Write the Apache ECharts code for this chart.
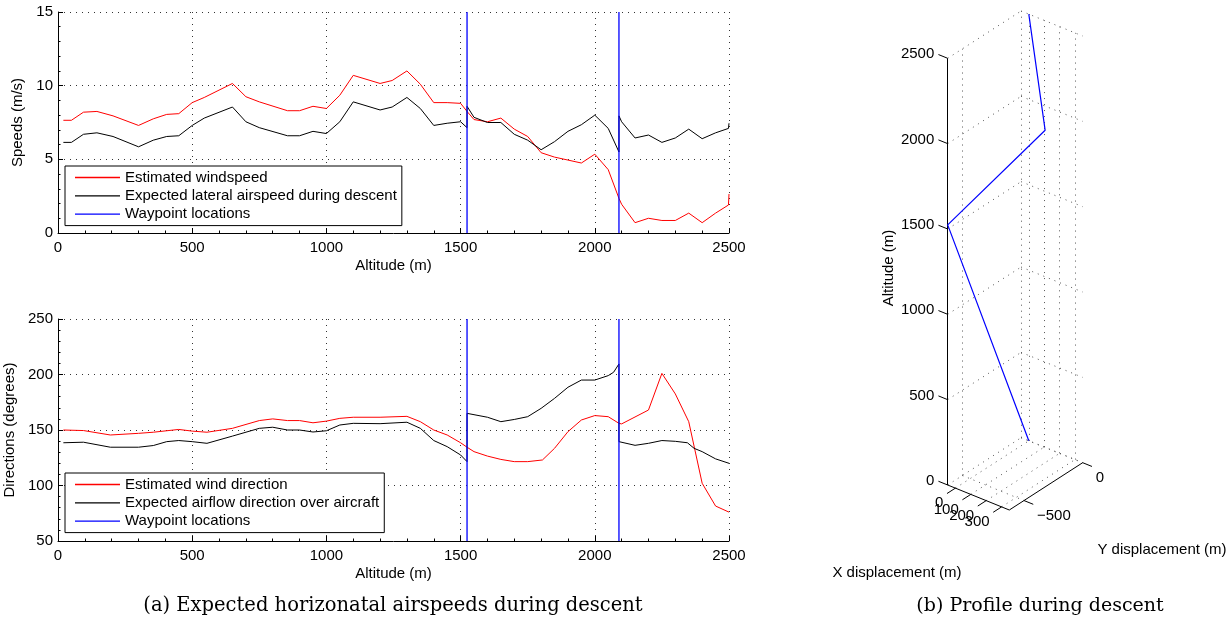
<!DOCTYPE html>
<html>
<head>
<meta charset="utf-8">
<script src="https://cdn.jsdelivr.net/npm/echarts@6/dist/echarts.min.js"></script>
<style>
  html, body { margin: 0; padding: 0; background: #fff; }
  #main { width: 1230px; height: 626px; }
</style>
</head>
<body>
<div id="main"></div>
<script>
// ---- Horizontal speeds vs altitude: [altitude (m), speed (m/s)] ----
const windspeed = [
  [20,7.65],[50,7.65],[95,8.2],[145,8.25],[205,7.95],[300,7.3],[355,7.75],[405,8.05],[450,8.1],
  [500,8.85],[545,9.2],[650,10.15],[700,9.25],[750,8.9],[855,8.3],[900,8.3],[950,8.6],[1000,8.45],
  [1050,9.35],[1100,10.7],[1200,10.15],[1245,10.35],[1300,11.0],[1350,10.1],[1400,8.85],[1450,8.85],
  [1500,8.8],[1524,8.25],[1550,7.7],[1600,7.55],[1650,7.8],[1700,7.05],[1750,6.55],[1800,5.45],
  [1850,5.15],[1900,4.95],[1950,4.75],[2000,5.35],[2050,4.3],[2090,2.35],[2100,1.95],[2150,0.7],
  [2200,1.0],[2250,0.85],[2300,0.85],[2350,1.35],[2400,0.7],[2450,1.35],[2498,1.9],[2500,2.65]
];
const lateralAirspeed = [
  [20,6.15],[50,6.15],[95,6.7],[145,6.8],[205,6.55],[300,5.85],[355,6.3],[405,6.55],[450,6.6],
  [500,7.3],[545,7.8],[650,8.55],[700,7.55],[750,7.15],[855,6.6],[900,6.6],[950,6.9],[1000,6.75],
  [1050,7.55],[1100,8.9],[1200,8.35],[1245,8.55],[1300,9.2],[1350,8.45],[1400,7.3],[1450,7.45],
  [1500,7.55],[1524,7.15],[1524,8.6],[1550,7.85],[1600,7.5],[1650,7.5],[1700,6.7],[1750,6.3],
  [1800,5.65],[1850,6.2],[1900,6.9],[1950,7.35],[2000,8.0],[2050,7.1],[2090,5.5],[2090,7.95],
  [2100,7.55],[2150,6.45],[2200,6.65],[2250,6.15],[2300,6.45],[2350,7.05],[2400,6.4],[2450,6.8],
  [2498,7.1],[2500,7.45]
];

// ---- Directions vs altitude: [altitude (m), direction (deg)] ----
const windDirection = [
  [20,150],[95,149.5],[195,145.5],[300,147],[355,148],[450,150.5],[500,149],[555,148],[650,151.5],
  [750,158.5],[800,160],[855,158.5],[900,158.5],[950,156.5],[1000,158],[1050,160.5],[1100,161.5],
  [1200,161.5],[1300,162.3],[1350,157.5],[1400,150],[1450,145.5],[1500,138.5],[1524,134.5],
  [1550,130.5],[1600,126.5],[1650,123.5],[1700,121.5],[1750,121.5],[1805,123],[1850,133.5],
  [1900,148.5],[1950,159],[2000,163],[2050,162],[2090,156],[2100,155.5],[2200,168],[2250,201],
  [2300,182.5],[2350,157.5],[2400,102],[2450,81.5],[2500,76]
];
const airflowDirection = [
  [20,138.5],[95,139],[195,134.5],[300,134.5],[355,136],[405,139.5],[450,140.5],[500,139.5],
  [555,138],[650,144.5],[750,151.5],[800,152.5],[855,150],[900,150],[950,148.2],[1000,149.3],
  [1050,154.5],[1100,156],[1200,155.7],[1300,157],[1350,151.5],[1400,140.5],[1450,135],
  [1500,127.5],[1524,121.5],[1524,165],[1600,161.5],[1650,157.5],[1700,159.5],[1750,162],
  [1800,169.5],[1850,178.5],[1900,188.5],[1950,195],[2000,195],[2050,199],[2070,202],[2090,209.5],
  [2090,139.5],[2150,136.2],[2200,138],[2250,140.5],[2300,139.8],[2345,138.5],[2370,133.5],
  [2400,130.5],[2450,124],[2500,120]
];
const waypointAltitudes = [1524, 2090];

// ---- Descent profile (m) ----
const profileX = [0, 350, -50, 0];
const profileY = [0, -320, -625, 0];
const profileAlt = [2500, 2090, 1524, 0];
const xTicks3d = [0, 100, 200, 300];
const yTicks3d = [-500, 0];
const zTicks3d = [0, 500, 1000, 1500, 2000, 2500];
const xRange3d = [-50, 350];
const yRange3d = [-625, 0];
const zRange3d = [0, 2500];

// axis limits of the two altitude plots
const speedRange = [0, 15];
const directionRange = [50, 250];

const FONT = '"Liberation Sans", Arial, Helvetica, sans-serif';
const SERIF = '"DejaVu Serif", "Liberation Serif", serif';

// Oblique box used to project the 3-D profile onto the page (pixels)
const box = {
  origin: [947.7, 485],
  xEdge: [61.6, 25],
  yEdge: [73.4, -47.3],
  zEdge: [0, -426.7]
};
function project(x, y, z) {
  const fx = (x - xRange3d[0]) / (xRange3d[1] - xRange3d[0]);
  const fy = (y - yRange3d[0]) / (yRange3d[1] - yRange3d[0]);
  const fz = (z - zRange3d[0]) / (zRange3d[1] - zRange3d[0]);
  return [
    box.origin[0] + fx * box.xEdge[0] + fy * box.yEdge[0] + fz * box.zEdge[0],
    box.origin[1] + fx * box.xEdge[1] + fy * box.yEdge[1] + fz * box.zEdge[1]
  ];
}
function unit(v) { const l = Math.hypot(v[0], v[1]); return [v[0] / l, v[1] / l]; }
function add(p, v, s) { return [p[0] + v[0] * s, p[1] + v[1] * s]; }

const [x0, x1] = xRange3d, [y0, y1] = yRange3d, [z0, z1] = zRange3d;
const gridSegs = [];
const seg = (a, b) => gridSegs.push({ coords: [a, b] });
yTicks3d.forEach(y => seg(project(x0, y, z0), project(x0, y, z1)));
zTicks3d.forEach(z => seg(project(x0, y0, z), project(x0, y1, z)));
xTicks3d.forEach(x => seg(project(x, y1, z0), project(x, y1, z1)));
zTicks3d.forEach(z => seg(project(x0, y1, z), project(x1, y1, z)));
xTicks3d.forEach(x => seg(project(x, y0, z0), project(x, y1, z0)));
yTicks3d.forEach(y => seg(project(x0, y, z0), project(x1, y, z0)));

const ux = unit(box.xEdge), uy = unit(box.yEdge);
const axisSegs = [
  { coords: [project(x0, y0, z0), project(x0, y0, z1)] },
  { coords: [project(x0, y0, z0), project(x1, y0, z0)] },
  { coords: [project(x1, y0, z0), project(x1, y1, z0)] }
];
const tickLabels3d = [];
zTicks3d.forEach(z => {
  const p = project(x0, y0, z);
  axisSegs.push({ coords: [p, add(p, ux, -10)] });
  tickLabels3d.push([p[0] - 13.4, p[1] - 4, String(z), 'right']);
});
xTicks3d.forEach(x => {
  const p = project(x, y0, z0);
  axisSegs.push({ coords: [p, add(p, uy, -10)] });
  tickLabels3d.push([p[0] - 12, p[1] + 15, String(x), 'right']);
});
yTicks3d.forEach(y => {
  const p = project(x1, y, z0);
  axisSegs.push({ coords: [p, add(p, ux, 10)] });
  tickLabels3d.push([p[0] + 13, p[1] + 15, y < 0 ? '\u2212' + Math.abs(y) : String(y), 'left']);
});
const profilePath = profileX.map((x, i) => project(x, profileY[i], profileAlt[i]));

// ---- shared 2-D axis styling ----
const dotted = { color: '#333', width: 1, type: [1, 5] };
const plain = v => String(v);
function xAxis2d(gridIndex) {
  return {
    gridIndex, type: 'value', min: 0, max: 2500, interval: 500,
    name: 'Altitude (m)', nameLocation: 'middle', nameGap: 25,
    nameTextStyle: { fontSize: 15, color: '#000', fontFamily: FONT },
    axisLine: { onZero: false, lineStyle: { color: '#000', width: 1 } },
    axisTick: { inside: true, length: 5, lineStyle: { color: '#000' } },
    minorTick: { show: true, splitNumber: 5, length: 2.5, lineStyle: { color: '#000' } },
    axisLabel: { fontSize: 15, color: '#000', fontFamily: FONT, margin: 7, formatter: plain },
    splitLine: { show: true, lineStyle: dotted }
  };
}
function yAxis2d(gridIndex, range, interval, name, gap) {
  return {
    gridIndex, type: 'value', min: range[0], max: range[1], interval,
    name, nameLocation: 'middle', nameGap: gap, nameRotate: 90,
    nameTextStyle: { fontSize: 15, color: '#000', fontFamily: FONT },
    axisLine: { onZero: false, lineStyle: { color: '#000', width: 1 } },
    axisTick: { inside: true, length: 5, lineStyle: { color: '#000' } },
    minorTick: { show: true, splitNumber: 5, length: 2.5, lineStyle: { color: '#000' } },
    axisLabel: { fontSize: 15, color: '#000', fontFamily: FONT, margin: 5, formatter: plain },
    splitLine: { show: true, lineStyle: dotted }
  };
}
// one vertical line per waypoint, spanning the full value range
function waypointSeries(xi, yi, range) {
  return waypointAltitudes.map(a => ({
    name: 'Waypoint locations', type: 'line', xAxisIndex: xi, yAxisIndex: yi,
    data: [[a, range[0]], [a, range[1]]], symbol: 'none', color: '#0000ff',
    lineStyle: { color: '#0000ff', width: 1.3 }, silent: true, z: 5
  }));
}
function dataLine(name, data, color, xi, yi) {
  return {
    name, type: 'line', data, xAxisIndex: xi, yAxisIndex: yi, symbol: 'none',
    color, lineStyle: { color, width: 1 }, z: 3
  };
}
function legend2d(top, names) {
  return {
    orient: 'vertical', left: 65, top,
    data: names, icon: 'rect', itemWidth: 45, itemHeight: 1.3, itemGap: 2.3,
    padding: [3.5, 5, 3.5, 10],
    borderColor: '#000', borderWidth: 1, backgroundColor: '#fff',
    selectedMode: false,
    textStyle: { fontSize: 15, color: '#000', fontFamily: FONT, lineHeight: 16 }
  };
}

const option = {
  backgroundColor: '#fff',
  animation: false,
  grid: [
    { left: 58, top: 12, width: 671, height: 221, containLabel: false, outerBoundsMode: 'none' },
    { left: 58, top: 319, width: 671, height: 222, containLabel: false, outerBoundsMode: 'none' },
    { left: 0, top: 0, width: 1230, height: 626, containLabel: false, outerBoundsMode: 'none' }
  ],
  xAxis: [
    xAxis2d(0),
    xAxis2d(1),
    { gridIndex: 2, type: 'value', min: 0, max: 1230, show: false }
  ],
  yAxis: [
    yAxis2d(0, speedRange, 5, 'Speeds (m/s)', 23),
    yAxis2d(1, directionRange, 50, 'Directions (degrees)', 31),
    { gridIndex: 2, type: 'value', min: 0, max: 626, inverse: true, show: false }
  ],
  legend: [
    legend2d(166, ['Estimated windspeed', 'Expected lateral airspeed during descent', 'Waypoint locations']),
    legend2d(473, ['Estimated wind direction', 'Expected airflow direction over aircraft', 'Waypoint locations'])
  ],
  series: [
    dataLine('Estimated windspeed', windspeed, '#ff0000', 0, 0),
    dataLine('Expected lateral airspeed during descent', lateralAirspeed, '#000000', 0, 0),
    ...waypointSeries(0, 0, speedRange),
    dataLine('Estimated wind direction', windDirection, '#ff0000', 1, 1),
    dataLine('Expected airflow direction over aircraft', airflowDirection, '#000000', 1, 1),
    ...waypointSeries(1, 1, directionRange),
    {
      type: 'lines', coordinateSystem: 'cartesian2d', xAxisIndex: 2, yAxisIndex: 2,
      silent: true, data: gridSegs,
      lineStyle: { color: '#555', width: 1, type: [1, 5], opacity: 1 }
    },
    {
      type: 'lines', coordinateSystem: 'cartesian2d', xAxisIndex: 2, yAxisIndex: 2,
      silent: true, data: axisSegs,
      lineStyle: { color: '#000', width: 1, opacity: 1 }
    },
    {
      type: 'line', xAxisIndex: 2, yAxisIndex: 2, data: profilePath, symbol: 'none',
      silent: true, lineStyle: { color: '#0000ff', width: 1.2 }, z: 4
    },
    {
      type: 'custom', xAxisIndex: 2, yAxisIndex: 2, silent: true, data: tickLabels3d,
      renderItem(params, api) {
        const d = tickLabels3d[params.dataIndex];
        const p = api.coord([d[0], d[1]]);
        return {
          type: 'text', x: p[0], y: p[1],
          style: { text: d[2], align: d[3], verticalAlign: 'middle', fontSize: 15, fontFamily: FONT, fill: '#000' }
        };
      }
    }
  ],
  graphic: [
    { type: 'text', x: 889, y: 268, rotation: Math.PI / 2,
      style: { text: 'Altitude (m)', align: 'center', verticalAlign: 'middle', fontSize: 15, fontFamily: FONT, fill: '#000' } },
    { type: 'text', x: 897, y: 573,
      style: { text: 'X displacement (m)', align: 'center', verticalAlign: 'middle', fontSize: 15, fontFamily: FONT, fill: '#000' } },
    { type: 'text', x: 1162, y: 550,
      style: { text: 'Y displacement (m)', align: 'center', verticalAlign: 'middle', fontSize: 15, fontFamily: FONT, fill: '#000' } },
    { type: 'text', x: 393, y: 606,
      style: { text: '(a) Expected horizonatal airspeeds during descent', align: 'center', verticalAlign: 'middle', fontSize: 19.5, fontFamily: SERIF, fill: '#000' } },
    { type: 'text', x: 1040, y: 606,
      style: { text: '(b) Profile during descent', align: 'center', verticalAlign: 'middle', fontSize: 19, fontFamily: SERIF, fill: '#000' } }
  ]
};

const chart = echarts.init(document.getElementById('main'));
chart.setOption(option);
</script>
</body>
</html>
